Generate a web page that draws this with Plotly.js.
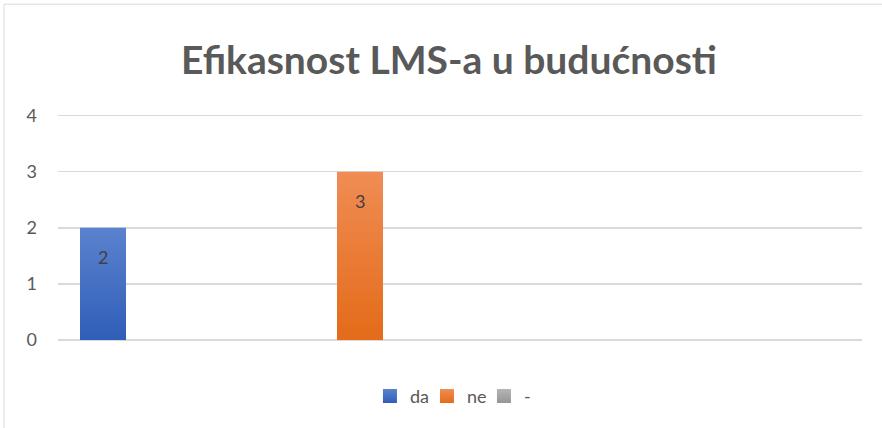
<!DOCTYPE html>
<html>
<head>
<meta charset="utf-8">
<script src="https://cdn.plot.ly/plotly-3.0.1.min.js"></script>
<style>html,body{margin:0;padding:0;background:#fff;}#chart{width:882px;height:428px;}</style>
</head>
<body>
<div id="chart"></div>
<script>
const chartTitle = "Efikasnost LMS-a u budućnosti";
const seriesNames = ["da", "ne", "-"];
const seriesValues = [2, 3, 0];
const seriesColors = ["#4472C4", "#F07A2A", "#A5A5A5"];
const gradTop = ["#5B82CE", "#F08C54", "#B5B5B5"];
const gradBottom = ["#2F5EB8", "#E46B19", "#959595"];
const yTicks = [0, 1, 2, 3, 4];

const FONT = "Lato, 'Open Sans', sans-serif";

const barTraces = seriesNames.map((name, i) => ({
  type: "bar",
  name: name,
  x: [name],
  y: [seriesValues[i]],
  width: 0.179,
  marker: { color: seriesColors[i], line: { width: 0 } },
  showlegend: false,
  hoverinfo: "skip"
}));

const legendTraces = seriesNames.map((name, i) => ({
  type: "scatter",
  mode: "markers",
  name: name,
  x: [name],
  y: [null],
  marker: { symbol: "square", size: 14, color: seriesColors[i] },
  showlegend: true,
  hoverinfo: "skip"
}));

const annotations = seriesNames
  .map((name, i) => ({ name, v: seriesValues[i] }))
  .filter(d => d.v > 0)
  .map(d => ({
    x: d.name, y: d.v, xref: "x", yref: "y",
    text: String(d.v), showarrow: false,
    yshift: -29, font: { family: FONT, size: 18, color: "#404040" }
  }));

const layout = {
  width: 882, height: 428,
  margin: { l: 58, r: 20, t: 110.4, b: 88 },
  paper_bgcolor: "#ffffff", plot_bgcolor: "#ffffff",
  barmode: "overlay",
  title: {
    text: "<b>" + chartTitle + "</b>",
    font: { family: FONT, size: 39, color: "#595959" },
    x: 0.509, xanchor: "center", y: 0.86, yanchor: "middle"
  },
  xaxis: {
    type: "category",
    categoryorder: "array", categoryarray: seriesNames,
    range: [-0.1751, 2.9533],
    showticklabels: false, showgrid: false, zeroline: false,
    showline: false, ticks: ""
  },
  yaxis: {
    range: [0, 4.1], tickvals: yTicks,
    showgrid: true, gridcolor: "#D9D9D9", gridwidth: 1.5,
    zeroline: true, zerolinecolor: "#D9D9D9", zerolinewidth: 1.5,
    showline: false, ticks: "",
    ticklabelstandoff: 20,
    tickfont: { family: FONT, size: 18, color: "#595959" }
  },
  showlegend: true,
  legend: {
    orientation: "h", x: 0.388, xanchor: "left", y: -0.245, yanchor: "middle",
    entrywidth: 12, entrywidthmode: "pixels",
    font: { family: FONT, size: 18, color: "#595959" },
    itemclick: false, itemdoubleclick: false
  },
  annotations: annotations,
  shapes: [{
    type: "rect", xref: "paper", yref: "paper",
    x0: -0.0672, x1: 1.2, y0: -0.5, y1: 1.46,
    line: { color: "#D9D9D9", width: 1 }, fillcolor: "rgba(0,0,0,0)", layer: "below"
  }]
};

Plotly.newPlot("chart", barTraces.concat(legendTraces), layout, { displayModeBar: false, staticPlot: true })
  .then(gd => {
    const NS = "http://www.w3.org/2000/svg";
    const svg = gd.querySelector("svg.main-svg");
    let defs = svg.querySelector("defs");
    if (!defs) { defs = document.createElementNS(NS, "defs"); svg.insertBefore(defs, svg.firstChild); }
    seriesNames.forEach((n, i) => {
      const g = document.createElementNS(NS, "linearGradient");
      g.setAttribute("id", "grad" + i);
      g.setAttribute("x1", "0"); g.setAttribute("y1", "0");
      g.setAttribute("x2", "0"); g.setAttribute("y2", "1");
      [[0, gradTop[i]], [1, gradBottom[i]]].forEach(([o, c]) => {
        const s = document.createElementNS(NS, "stop");
        s.setAttribute("offset", String(o)); s.setAttribute("stop-color", c);
        g.appendChild(s);
      });
      defs.appendChild(g);
    });
    gd.querySelectorAll(".barlayer .trace").forEach((t, i) => {
      t.querySelectorAll("path").forEach(p => { p.style.fill = "url(#grad" + i + ")"; });
    });
    gd.querySelectorAll(".legend .traces").forEach((t, i) => {
      t.querySelectorAll(".legendpoints path").forEach(p => { p.style.fill = "url(#grad" + i + ")"; });
    });
  });
</script>
</body>
</html>
